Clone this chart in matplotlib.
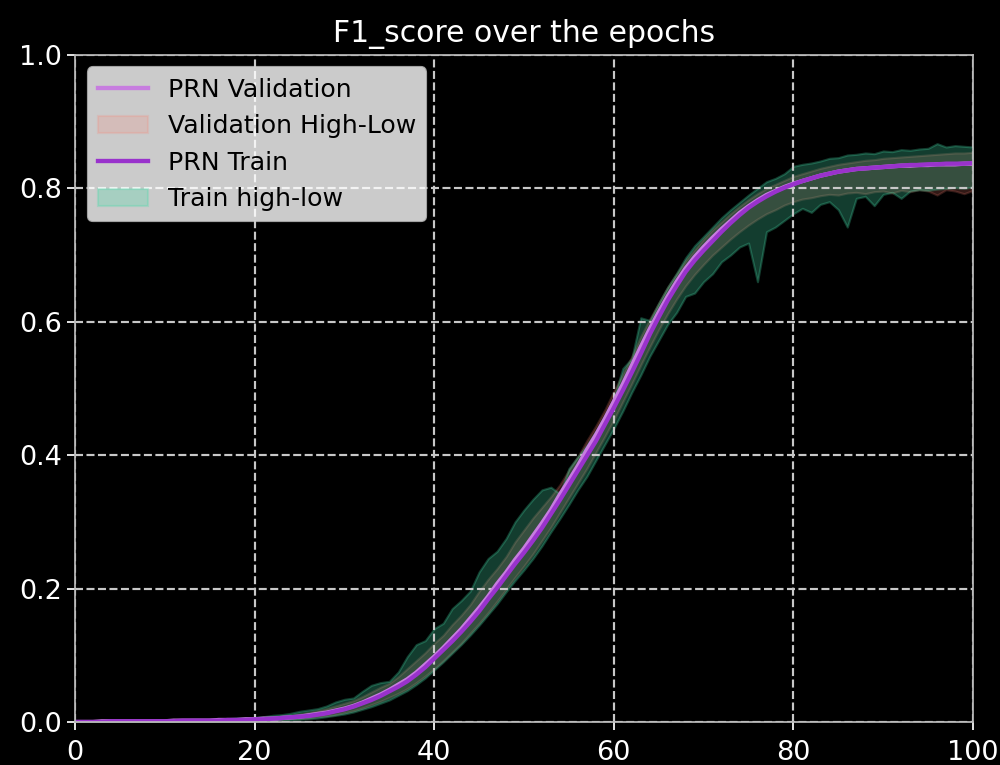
"""
plot.py
F1_score por época: curvas PRN de treino e validação com faixas high-low.
"""

import matplotlib.pyplot as plt
import numpy as np

# ------------------------------------------------------------------ dados
epochs = list(range(0, 101))

val_mean = [
    0.000, 0.000, 0.000, 0.001, 0.001, 0.001, 0.001, 0.001, 0.001, 0.001,
    0.001, 0.002, 0.002, 0.002, 0.002, 0.002, 0.003, 0.003, 0.003, 0.004,
    0.004, 0.005, 0.005, 0.006, 0.007, 0.008, 0.010, 0.012, 0.014, 0.017,
    0.020, 0.024, 0.029, 0.035, 0.041, 0.048, 0.056, 0.064, 0.074, 0.086,
    0.098, 0.111, 0.125, 0.139, 0.155, 0.171, 0.188, 0.207, 0.224, 0.243,
    0.260, 0.279, 0.298, 0.318, 0.341, 0.362, 0.384, 0.408, 0.430, 0.454,
    0.480, 0.506, 0.534, 0.562, 0.589, 0.614, 0.638, 0.660, 0.680, 0.697,
    0.712, 0.726, 0.739, 0.751, 0.763, 0.773, 0.782, 0.790, 0.796, 0.802,
    0.807, 0.811, 0.815, 0.819, 0.822, 0.825, 0.827, 0.829, 0.830, 0.831,
    0.832, 0.833, 0.834, 0.834, 0.835, 0.835, 0.836, 0.836, 0.836, 0.837,
    0.837,
]
val_high = [
    0.001, 0.001, 0.001, 0.001, 0.001, 0.002, 0.002, 0.002, 0.002, 0.002,
    0.002, 0.003, 0.003, 0.003, 0.003, 0.004, 0.004, 0.004, 0.005, 0.005,
    0.006, 0.007, 0.008, 0.009, 0.010, 0.012, 0.014, 0.017, 0.020, 0.024,
    0.028, 0.032, 0.038, 0.045, 0.052, 0.058, 0.068, 0.080, 0.092, 0.104,
    0.118, 0.130, 0.146, 0.160, 0.176, 0.196, 0.214, 0.230, 0.248, 0.270,
    0.288, 0.306, 0.322, 0.338, 0.356, 0.378, 0.398, 0.422, 0.444, 0.468,
    0.496, 0.522, 0.548, 0.578, 0.604, 0.628, 0.652, 0.672, 0.692, 0.708,
    0.724, 0.738, 0.750, 0.762, 0.773, 0.783, 0.792, 0.800, 0.806, 0.812,
    0.818, 0.822, 0.826, 0.830, 0.833, 0.836, 0.838, 0.840, 0.842, 0.843,
    0.845, 0.846, 0.847, 0.848, 0.849, 0.850, 0.851, 0.852, 0.853, 0.853,
    0.854,
]
val_low = [
    0.000, 0.000, 0.000, 0.000, 0.000, 0.000, 0.000, 0.000, 0.000, 0.000,
    0.001, 0.001, 0.001, 0.001, 0.001, 0.001, 0.002, 0.002, 0.002, 0.002,
    0.003, 0.003, 0.003, 0.004, 0.005, 0.005, 0.006, 0.008, 0.009, 0.011,
    0.014, 0.017, 0.021, 0.026, 0.031, 0.037, 0.043, 0.050, 0.059, 0.069,
    0.080, 0.092, 0.105, 0.118, 0.133, 0.148, 0.164, 0.181, 0.199, 0.217,
    0.234, 0.252, 0.272, 0.292, 0.314, 0.336, 0.358, 0.380, 0.404, 0.428,
    0.453, 0.480, 0.507, 0.535, 0.562, 0.588, 0.612, 0.634, 0.654, 0.671,
    0.686, 0.700, 0.712, 0.724, 0.735, 0.745, 0.754, 0.762, 0.768, 0.775,
    0.780, 0.784, 0.786, 0.789, 0.791, 0.790, 0.793, 0.794, 0.792, 0.795,
    0.796, 0.793, 0.797, 0.795, 0.798, 0.796, 0.790, 0.798, 0.796, 0.792,
    0.797,
]

train_mean = [
    0.000, 0.000, 0.000, 0.000, 0.001, 0.001, 0.001, 0.001, 0.001, 0.001,
    0.001, 0.001, 0.002, 0.002, 0.002, 0.002, 0.002, 0.003, 0.003, 0.003,
    0.004, 0.004, 0.005, 0.006, 0.007, 0.008, 0.009, 0.011, 0.013, 0.016,
    0.019, 0.023, 0.028, 0.033, 0.039, 0.046, 0.053, 0.061, 0.071, 0.082,
    0.095, 0.108, 0.121, 0.135, 0.150, 0.166, 0.184, 0.201, 0.219, 0.237,
    0.254, 0.272, 0.291, 0.312, 0.333, 0.355, 0.377, 0.399, 0.421, 0.446,
    0.471, 0.497, 0.524, 0.552, 0.581, 0.607, 0.632, 0.654, 0.675, 0.692,
    0.707, 0.721, 0.735, 0.748, 0.760, 0.771, 0.780, 0.788, 0.795, 0.801,
    0.806, 0.811, 0.815, 0.819, 0.822, 0.825, 0.827, 0.829, 0.830, 0.831,
    0.832, 0.833, 0.834, 0.835, 0.835, 0.836, 0.836, 0.837, 0.837, 0.837,
    0.838,
]
train_high = [
    0.001, 0.001, 0.001, 0.001, 0.002, 0.002, 0.002, 0.002, 0.002, 0.003,
    0.003, 0.003, 0.003, 0.004, 0.004, 0.004, 0.005, 0.005, 0.006, 0.006,
    0.007, 0.008, 0.010, 0.011, 0.013, 0.016, 0.018, 0.020, 0.024, 0.030,
    0.034, 0.036, 0.046, 0.055, 0.059, 0.061, 0.075, 0.098, 0.116, 0.122,
    0.140, 0.148, 0.170, 0.182, 0.196, 0.225, 0.245, 0.256, 0.275, 0.300,
    0.318, 0.334, 0.348, 0.352, 0.342, 0.380, 0.398, 0.415, 0.436, 0.460,
    0.486, 0.530, 0.545, 0.606, 0.602, 0.628, 0.652, 0.673, 0.696, 0.714,
    0.728, 0.742, 0.756, 0.768, 0.779, 0.790, 0.800, 0.810, 0.815, 0.822,
    0.833, 0.836, 0.838, 0.841, 0.845, 0.846, 0.850, 0.851, 0.853, 0.852,
    0.856, 0.855, 0.858, 0.857, 0.859, 0.860, 0.867, 0.862, 0.864, 0.863,
    0.862,
]
train_low = [
    0.000, 0.000, 0.000, 0.000, 0.000, 0.000, 0.000, 0.000, 0.000, 0.000,
    0.000, 0.000, 0.001, 0.001, 0.001, 0.001, 0.001, 0.001, 0.001, 0.001,
    0.002, 0.002, 0.002, 0.003, 0.003, 0.004, 0.005, 0.006, 0.008, 0.010,
    0.012, 0.015, 0.019, 0.023, 0.028, 0.033, 0.040, 0.047, 0.056, 0.066,
    0.078, 0.090, 0.103, 0.116, 0.130, 0.145, 0.161, 0.177, 0.195, 0.212,
    0.228, 0.245, 0.264, 0.285, 0.305, 0.326, 0.348, 0.368, 0.392, 0.416,
    0.440, 0.466, 0.494, 0.520, 0.548, 0.572, 0.596, 0.614, 0.638, 0.643,
    0.660, 0.672, 0.690, 0.700, 0.712, 0.718, 0.660, 0.735, 0.742, 0.752,
    0.762, 0.770, 0.764, 0.776, 0.780, 0.768, 0.742, 0.785, 0.788, 0.774,
    0.791, 0.794, 0.785, 0.796, 0.798, 0.797, 0.799, 0.800, 0.801, 0.800,
    0.802,
]

# ------------------------------------------------------------------ figura
DPI = 156
fig = plt.figure(figsize=(1000 / DPI, 765 / DPI), dpi=DPI, facecolor="black")
ax = fig.add_axes([0.075, 0.0562, 0.898, 0.872], facecolor="black")

ax.plot(epochs, val_mean, color="#c77ddf", lw=2, label="PRN Validation")
ax.fill_between(epochs, val_low, val_high, color="salmon", alpha=0.2,
                label="Validation High-Low")
ax.plot(epochs, train_mean, color="darkorchid", lw=2, label="PRN Train")
ax.fill_between(epochs, train_low, train_high, color="#46dcaa", alpha=0.28,
                label="Train high-low")

ax.set_xlim(0, 100)
ax.set_ylim(0, 1)
ax.set_xticks(np.arange(0, 101, 20))
ax.set_yticks(np.arange(0, 1.01, 0.2))
ax.grid(True, ls="--", color="#c8c8c8", lw=1)
ax.tick_params(colors="white", labelcolor="white", labelsize=12.5, pad=2.5)
ax.tick_params(axis="x", pad=5)
for s in ax.spines.values():
    s.set_color("#bbbbbb")

ax.set_title("F1_score over the epochs", color="white", fontsize=13.8)
ax.legend(loc="upper left", fontsize=11.6)

fig.savefig("out.png", dpi=DPI, facecolor="black")
